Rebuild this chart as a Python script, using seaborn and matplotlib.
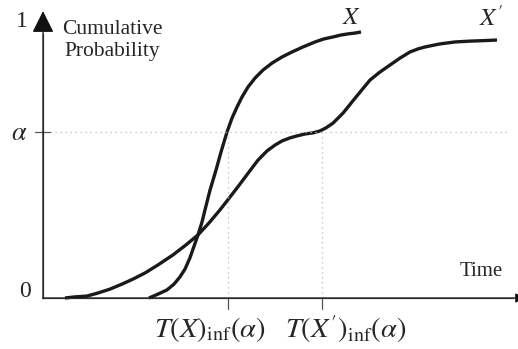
import pandas as pd
import matplotlib
matplotlib.use("Agg")
import matplotlib.pyplot as plt
import seaborn as sns

# Cumulative distribution curves of two completion-time variables X and X'
time_x = [106, 115, 124, 131, 137, 142, 147, 151, 155, 159, 162, 167, 173,
          178, 184, 189, 194, 199, 205, 212, 220, 229, 239, 249, 260, 272,
          281, 290, 298, 305, 312, 318]
prob_x = [0.000, 0.014, 0.029, 0.050, 0.076, 0.104, 0.145, 0.186, 0.227,
          0.273, 0.317, 0.388, 0.460, 0.525, 0.597, 0.647, 0.687, 0.723,
          0.759, 0.791, 0.820, 0.845, 0.867, 0.885, 0.903, 0.921, 0.932,
          0.939, 0.946, 0.950, 0.953, 0.957]

time_xp = [22, 32, 44, 55, 67, 79, 90, 102, 115, 130, 143, 155, 166, 177,
           187, 197, 207, 215, 224, 232, 239, 247, 254, 262, 270, 277, 283,
           290, 300, 313, 327, 337, 347, 357, 367, 375, 382, 397, 412, 427,
           442, 454]
prob_xp = [0.000, 0.004, 0.007, 0.018, 0.032, 0.050, 0.068, 0.090, 0.119,
           0.155, 0.191, 0.227, 0.270, 0.317, 0.363, 0.410, 0.458, 0.496,
           0.529, 0.550, 0.565, 0.576, 0.583, 0.590, 0.594, 0.601, 0.612,
           0.629, 0.665, 0.723, 0.784, 0.813, 0.838, 0.863, 0.885, 0.896,
           0.903, 0.914, 0.921, 0.924, 0.926, 0.928]

alpha_level = 0.597
t_inf_x = 185
t_inf_xp = 279

df = pd.concat([
    pd.DataFrame({"Time": time_x, "P": prob_x, "curve": "X"}),
    pd.DataFrame({"Time": time_xp, "P": prob_xp, "curve": "Xp"}),
])

sns.set_theme(style="white")
plt.rcParams["mathtext.fontset"] = "stix"
plt.rcParams["font.family"] = ["Liberation Serif", "DejaVu Serif"]

fig = plt.figure(figsize=(5.18, 3.49), dpi=100)
ax = fig.add_axes([0, 0, 1, 1])
ax.set_xlim(-43, 475)
ax.set_ylim(-51 / 278, 298 / 278)
ax.axis("off")

sns.lineplot(data=df, x="Time", y="P", units="curve", estimator=None,
             sort=False, color="#1a1a1a", linewidth=2.4, ax=ax,
             solid_capstyle="butt", solid_joinstyle="round")

axis_col = "#555555"
# horizontal axis with arrow
ax.annotate("", xy=(482, 0), xytext=(0, 0),
            arrowprops=dict(arrowstyle="-|>", color=axis_col, lw=0.9,
                            mutation_scale=14, shrinkA=0, shrinkB=0,
                            fc="#111111", ec="#111111"),
            annotation_clip=False)
ax.plot([0, 470], [0, 0], color=axis_col, lw=0.9)
# vertical axis with arrow
ax.annotate("", xy=(0, 1.032), xytext=(0, -0.003),
            arrowprops=dict(arrowstyle="-|>,head_length=0.9,head_width=0.45",
                            color="#111111", lw=0.9, mutation_scale=15,
                            shrinkA=0, shrinkB=0),
            annotation_clip=False)
ax.plot([0, 0], [0, 0.95], color=axis_col, lw=0.9)

# alpha level guides
ax.plot([7, 467], [alpha_level, alpha_level], color="#bbbbbb", lw=0.9,
        linestyle=(0, (1, 3)))
for t in (t_inf_x, t_inf_xp):
    ax.plot([t, t], [0, alpha_level], color="#bbbbbb", lw=0.9,
            linestyle=(0, (1, 3)))
    ax.plot([t, t], [0, -0.04], color=axis_col, lw=0.9)
ax.plot([-8, 7], [alpha_level, alpha_level], color=axis_col, lw=0.9)

# labels
ax.text(-21, 0.995, "1", fontsize=17, ha="center", va="center")
ax.text(-18, 0.025, "0", fontsize=17, ha="center", va="center")
ax.text(-24, 0.59, r"$\alpha$", fontsize=19, ha="center", va="center")
ax.text(69, 0.925, "Cumulative\nProbability", fontsize=15.5, ha="center",
        va="center", linespacing=1.2)
ax.text(438, 0.095, "Time", fontsize=15, ha="center", va="center")
ax.text(309, 1.007, r"$X$", fontsize=18, ha="center", va="center")
ax.text(448, 1.007, r"$X^{\prime}$", fontsize=18, ha="center", va="center")
ax.text(167, -0.113, r"$T(X)_{\rm inf}(\alpha)$", fontsize=20.5,
        ha="center", va="center")
ax.text(303, -0.113, r"$T(X^{\prime})_{\rm inf}(\alpha)$", fontsize=20.5,
        ha="center", va="center")

fig.savefig("out.png", dpi=100)
